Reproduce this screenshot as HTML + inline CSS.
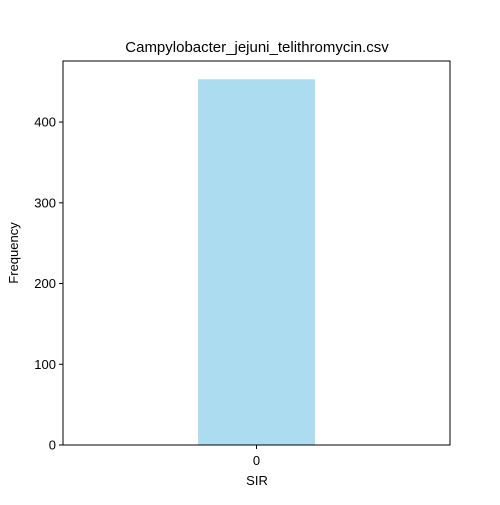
<!DOCTYPE html>
<html><head><meta charset="utf-8"><style>
body{margin:0;background:#fff;font-family:"Liberation Sans","DejaVu Sans",sans-serif;}
</style></head><body>
<svg width="500" height="500" xmlns="http://www.w3.org/2000/svg">
<rect width="500" height="500" fill="#fff"/>
<g id="plot"></g>
<text x="257" y="52" font-size="15" text-anchor="middle">Campylobacter_jejuni_telithromycin.csv</text>
<text x="257" y="485" font-size="13" text-anchor="middle">SIR</text>
<text x="18" y="253" font-size="13" text-anchor="middle" transform="rotate(-90 18 253)">Frequency</text>
</svg>
<script>
const categories = ["0"];
const values = [453];
const yTicks = [0, 100, 200, 300, 400];
const L=63,R=450,T=61,B=445,ymax=475.65;
const ns="http://www.w3.org/2000/svg";
const g=document.getElementById('plot');
const y=v=>B-(v/ymax)*(B-T);
const n=categories.length;
const x=i=>L+(i+0.5)*(R-L)/n;
const bw=0.302*(R-L)/n;
function mk(t,a){const e=document.createElementNS(ns,t);for(const k in a)e.setAttribute(k,a[k]);g.appendChild(e);return e;}
categories.forEach((c,i)=>{
  const r=mk('rect',{x:x(i)-bw/2,y:y(values[i]),width:bw,height:B-y(values[i]),fill:'#abdcf0'});
  
  
  const tk=mk('line',{x1:x(i),x2:x(i),y1:B,y2:B+4,stroke:'#000'});
  
  
  const t=mk('text',{x:x(i),y:B+20,'font-size':13,'text-anchor':'middle'});
  t.textContent=c;
  
  
});
yTicks.forEach(v=>{
  const tk=mk('line',{x1:L-4,x2:L,y1:y(v),y2:y(v),stroke:'#000'});
  
  
  const t=mk('text',{x:L-7,y:y(v)+4.5,'font-size':13,'text-anchor':'end'});
  t.textContent=v;
  
  
});
const f=mk('rect',{x:L,y:T,width:R-L,height:B-T,fill:'none',stroke:'#000','stroke-width':1});


</script>
</body></html>
